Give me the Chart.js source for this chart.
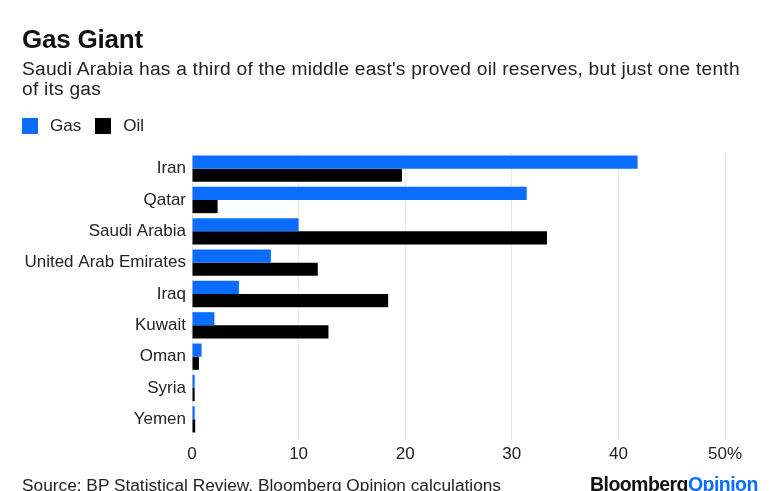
<!DOCTYPE html>
<html>
<head>
<meta charset="utf-8">
<script src="https://cdn.jsdelivr.net/npm/chart.js@4/dist/chart.umd.min.js"></script>
<style>
  html, body { margin: 0; padding: 0; background: #fff; }
  body { width: 773px; height: 491px; position: relative; overflow: hidden;
         font-family: "Liberation Sans", Arial, sans-serif; color: #111; }
  #title { position: absolute; left: 22px; top: 24px; font-size: 26px; font-weight: bold; letter-spacing: -0.2px; }
  #subtitle { position: absolute; left: 22px; top: 59px; width: 732px; font-size: 19.2px; line-height: 20px; letter-spacing: 0.22px; color: #222; }
  #legend { position: absolute; left: 22px; top: 116px; font-size: 17px; color: #222; }
  #legend span.sw { display: inline-block; width: 16px; height: 16px; vertical-align: -3px; margin-right: 12px; }
  #legend span.lb { margin-right: 14px; }
  #source { position: absolute; left: 22px; top: 475px; font-size: 17.3px; color: #222; }
  #logo { position: absolute; left: 590px; top: 473px; font-size: 19.5px; font-weight: bold; letter-spacing: -0.55px; }
  #logo em { font-style: normal; color: #0a6dff; }
  #wrap { position: absolute; left: 0; top: 0; width: 773px; height: 491px; }
</style>
</head>
<body>
<div id="wrap"><canvas id="gas"></canvas></div>
<div id="title">Gas Giant</div>
<div id="subtitle">Saudi Arabia has a third of the middle east's proved oil reserves, but just one tenth of its gas</div>
<div id="legend"><span class="sw" style="background:#0a6dff"></span><span class="lb">Gas</span><span class="sw" style="background:#000"></span><span class="lb">Oil</span></div>
<div id="source">Source: BP Statistical Review, Bloomberg Opinion calculations</div>
<div id="logo">Bloomberg<em>Opinion</em></div>
<script>
var countries = ["Iran", "Qatar", "Saudi Arabia", "United Arab Emirates", "Iraq", "Kuwait", "Oman", "Syria", "Yemen"];
var gasShare = [41.8, 31.4, 10.0, 7.4, 4.4, 2.1, 0.9, 0.25, 0.25];
var oilShare = [19.7, 2.4, 33.3, 11.8, 18.4, 12.8, 0.65, 0.25, 0.3];
var xTicks = [0, 10, 20, 30, 40, 50];

var ctx = document.getElementById('gas');
var chart = new Chart(ctx, {
    type: 'bar',
    data: {
        labels: countries,
        datasets: [
            {
                label: "Gas",
                backgroundColor: "#0a6dff",
                data: gasShare,
                barPercentage: 1.0,
                categoryPercentage: 0.84
            },
            {
                label: "Oil",
                backgroundColor: "#000",
                data: oilShare,
                barPercentage: 1.0,
                categoryPercentage: 0.84
            }
        ]
    },
    options: {
        indexAxis: 'y',
        responsive: true,
        maintainAspectRatio: false,
        animation: false,
        layout: { padding: { top: 153, right: 48, bottom: 0, left: 0 } },
        plugins: {
            legend: { display: false },
            tooltip: { enabled: false }
        },
        scales: {
            x: {
                min: 0,
                max: 50,
                afterBuildTicks: function (axis) {
                    axis.ticks = xTicks.map(function (v) { return { value: v }; });
                },
                afterFit: function (axis) { axis.height = 56; },
                border: { display: false },
                grid: { color: "#e8e8e8", lineWidth: 1, drawTicks: true, tickLength: 5, tickColor: "#e8e8e8" },
                ticks: {
                    padding: 4,
                    color: "#222",
                    font: { family: "Liberation Sans", size: 17 },
                    callback: function (v) { return v === 50 ? "50%" : v; }
                }
            },
            y: {
                afterFit: function (axis) { axis.width = 192; },
                border: { display: false },
                grid: { display: false, drawTicks: false },
                ticks: {
                    padding: 6,
                    color: "#222",
                    font: { family: "Liberation Sans", size: 17 }
                }
            }
        }
    }
});
</script>
</body>
</html>
